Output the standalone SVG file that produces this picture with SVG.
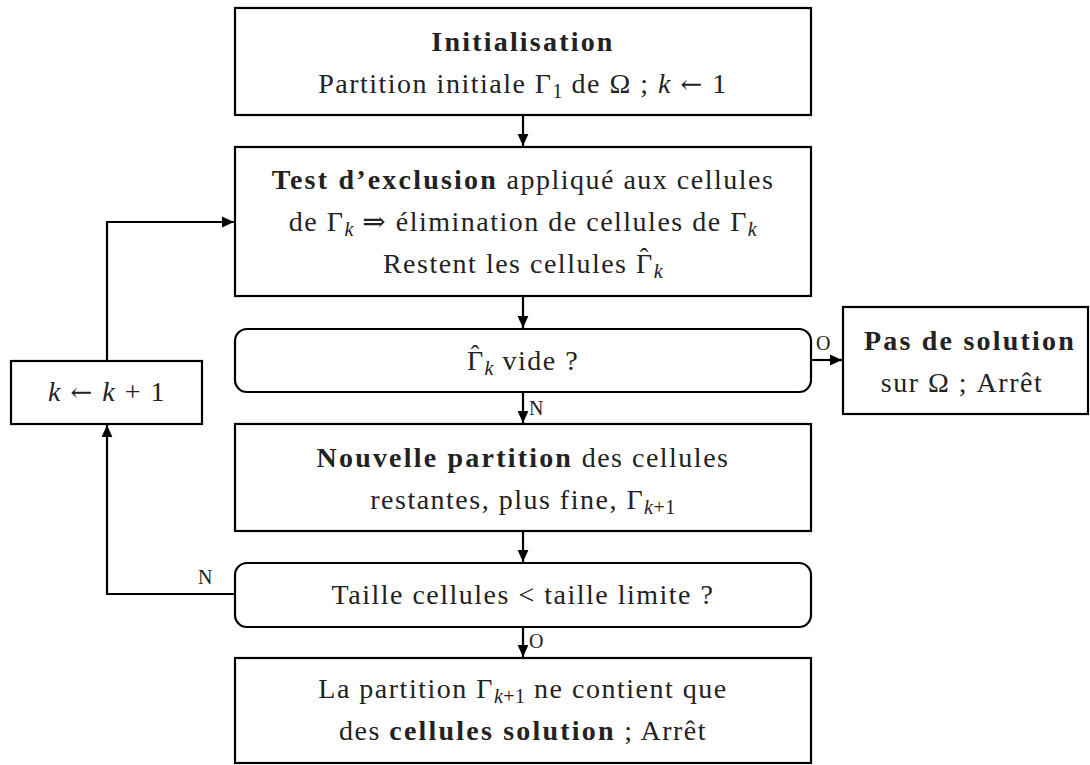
<svg xmlns="http://www.w3.org/2000/svg" width="1090" height="765" viewBox="0 0 1090 765">
<style>
  .box { fill: #fff; stroke: #000; stroke-width: 2.2; }
  .t { font-family: "Liberation Serif", "DejaVu Serif", serif; font-size: 28px; letter-spacing: 1.5px; fill: #222; text-anchor: middle; }
  .b { font-weight: bold; letter-spacing: 2.2px; }
  .i { font-style: italic; }
  .s { font-size: 20px; letter-spacing: 0.5px; }
  .ar { font-family: "DejaVu Serif", serif; font-size: 26px; }
  .hat { font-family: "Liberation Serif", serif; font-size: 26px; fill: #222; text-anchor: middle; }
  .lbl { font-family: "Liberation Serif", "DejaVu Serif", serif; font-size: 20px; fill: #222; }
  .c { fill: none; stroke: #000; stroke-width: 2.2; }
</style>
<defs>
  <marker id="ah" viewBox="0 0 10 10" refX="10" refY="5" markerWidth="12" markerHeight="12" markerUnits="userSpaceOnUse" orient="auto">
    <path d="M0,0.5 L10,5 L0,9.5 Z" fill="#000"/>
  </marker>
</defs>

<g id="connectors">
  <path class="c" d="M523,115 V146" marker-end="url(#ah)"/>
  <path class="c" d="M523,296 V328" marker-end="url(#ah)"/>
  <path class="c" d="M811,360 H842" marker-end="url(#ah)"/>
  <path class="c" d="M523,392 V423" marker-end="url(#ah)"/>
  <path class="c" d="M523,531 V562" marker-end="url(#ah)"/>
  <path class="c" d="M523,627 V657" marker-end="url(#ah)"/>
  <path class="c" d="M235,594 H107 V425" marker-end="url(#ah)"/>
  <path class="c" d="M107,361 V222 H234" marker-end="url(#ah)"/>
  <text class="lbl" x="816" y="350">O</text>
  <text class="lbl" x="529" y="415">N</text>
  <text class="lbl" x="198" y="584">N</text>
  <text class="lbl" x="529" y="648">O</text>
</g>

<g id="init">
  <rect class="box" x="235" y="8" width="576" height="107"/>
  <text class="t b" x="523" y="51">Initialisation</text>
  <text class="t" x="523" y="93">Partition initiale Γ<tspan class="s" dy="5">1</tspan><tspan dy="-5"> de Ω ; </tspan><tspan class="i">k</tspan> <tspan class="ar">←</tspan> 1</text>
</g>

<g id="test">
  <rect class="box" x="235" y="147" width="576" height="149"/>
  <text class="t" x="523" y="189"><tspan class="b">Test d’exclusion</tspan> appliqué aux cellules</text>
  <text class="t" x="523" y="231">de Γ<tspan class="i s" dy="5">k</tspan><tspan dy="-5">  ⇒ élimination de cellules de Γ</tspan><tspan class="i s" dy="5">k</tspan></text>
  <text class="t" x="523" y="273">Restent les cellules Γ<tspan class="i s" dy="5">k</tspan></text>
  <text class="hat" x="644" y="266">ˆ</text>
</g>

<g id="vide">
  <rect class="box" x="235" y="329" width="576" height="63" rx="12"/>
  <text class="t" x="523" y="370">Γ<tspan class="i s" dy="5">k</tspan><tspan dy="-5"> vide ?</tspan></text>
  <text class="hat" x="475" y="363">ˆ</text>
</g>

<g id="incr">
  <rect class="box" x="11" y="361" width="191" height="63"/>
  <text class="t" x="107" y="401"><tspan class="i">k</tspan> <tspan class="ar">←</tspan> <tspan class="i">k</tspan> + 1</text>
</g>

<g id="nosol">
  <rect class="box" x="843" y="307" width="245" height="107"/>
  <text class="t b" x="970" y="350">Pas de solution</text>
  <text class="t" x="962" y="392">sur Ω ; Arrêt</text>
</g>

<g id="partition">
  <rect class="box" x="235" y="424" width="576" height="107"/>
  <text class="t" x="523" y="467"><tspan class="b">Nouvelle partition</tspan> des cellules</text>
  <text class="t" x="523" y="509">restantes, plus fine, Γ<tspan class="i s" dy="5">k</tspan><tspan class="s">+1</tspan></text>
</g>

<g id="taille">
  <rect class="box" x="235" y="563" width="576" height="64" rx="12"/>
  <text class="t" x="523" y="604">Taille cellules &lt; taille limite ?</text>
</g>

<g id="final">
  <rect class="box" x="235" y="658" width="576" height="105"/>
  <text class="t" x="523" y="698">La partition Γ<tspan class="i s" dy="5">k</tspan><tspan class="s">+1</tspan><tspan dy="-5"> ne contient que</tspan></text>
  <text class="t" x="523" y="740">des <tspan class="b">cellules solution</tspan> ; Arrêt</text>
</g>
</svg>
